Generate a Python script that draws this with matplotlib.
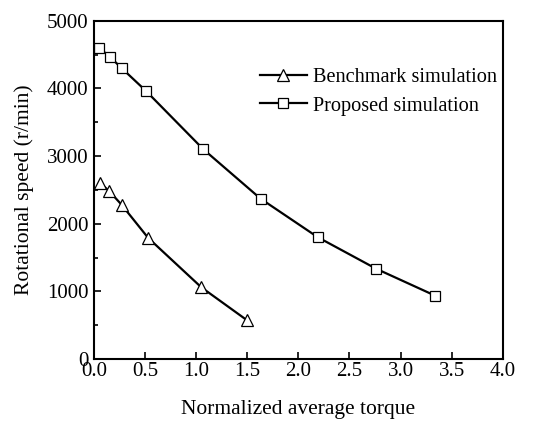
import matplotlib
matplotlib.use("Agg")
import matplotlib.pyplot as plt
from matplotlib.ticker import MultipleLocator

plt.rcParams['font.family'] = ['Liberation Serif', 'DejaVu Serif']

# benchmark simulation (triangles)
bench_torque = [0.06, 0.15, 0.27, 0.53, 1.05, 1.50]
bench_speed = [2600, 2480, 2280, 1790, 1060, 570]

# proposed simulation (squares)
prop_torque = [0.05, 0.16, 0.27, 0.51, 1.07, 1.63, 2.19, 2.76, 3.34]
prop_speed = [4600, 4460, 4300, 3960, 3100, 2370, 1800, 1335, 935]

fig = plt.figure(figsize=(5.38, 4.21), dpi=100)
ax = fig.add_axes([0.1747, 0.1473, 0.7597, 0.8035])

ax.plot(bench_torque, bench_speed, color='black', lw=1.6, marker='^', ms=8.5,
        mfc='white', mec='black', mew=0.9, label='Benchmark simulation')
ax.plot(prop_torque, prop_speed, color='black', lw=1.6, marker='s', ms=7,
        mfc='white', mec='black', mew=0.9, label='Proposed simulation')

ax.set_xlim(0, 4)
ax.set_ylim(0, 5000)
ax.xaxis.set_major_locator(MultipleLocator(0.5))
ax.yaxis.set_major_locator(MultipleLocator(1000))
ax.yaxis.set_minor_locator(MultipleLocator(500))
ax.xaxis.set_major_formatter(plt.FormatStrFormatter('%.1f'))
ax.tick_params(direction='in', which='major', length=5, width=1.2, labelsize=15,
               top=False, right=False)
ax.tick_params(axis='y', which='major', pad=4)
ax.tick_params(axis='x', which='major', pad=2)
ax.tick_params(direction='in', which='minor', length=3, width=1.2, left=True,
               right=False)
for s in ax.spines.values():
    s.set_linewidth(1.5)

ax.set_xlabel('Normalized average torque', fontsize=15.5, labelpad=14)
ax.set_ylabel('Rotational speed (r/min)', fontsize=15.5, labelpad=9)

ax.legend(loc='upper right', bbox_to_anchor=(1.01, 0.89), frameon=False,
          fontsize=14.6, numpoints=1, handlelength=2.3, handletextpad=0.3,
          labelspacing=0.45, borderaxespad=0.1)

fig.savefig('out.png', dpi=100)
